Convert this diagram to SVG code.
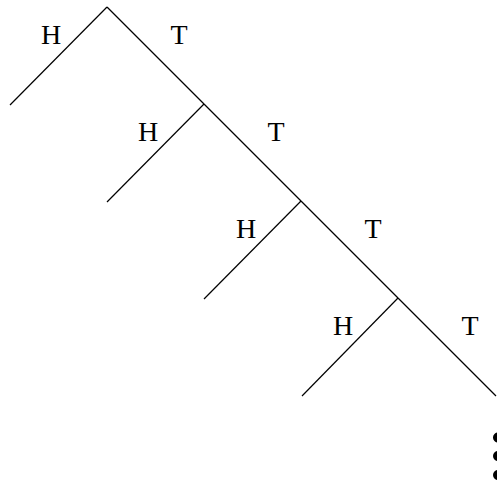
<svg xmlns="http://www.w3.org/2000/svg" width="497" height="486" viewBox="0 0 497 486">
<style>
.e{stroke:#000;stroke-width:1.2;fill:none}
.l{font-family:"Liberation Serif",serif;font-size:28px;fill:#000;text-anchor:middle}
.d{fill:#000}
</style>
<rect width="497" height="486" fill="#fff"/>
<g id="connectors">
<path class="e" d="M107,7 L10,105"/>
<path class="e" d="M107,7 L204,104"/>
<path class="e" d="M204,104 L107,202"/>
<path class="e" d="M204,104 L301,201"/>
<path class="e" d="M301,201 L204,299"/>
<path class="e" d="M301,201 L398,298"/>
<path class="e" d="M398,298 L302,396"/>
<path class="e" d="M398,298 L496,396"/>
</g>
<g id="labels">
<text class="l" x="51" y="44">H</text>
<text class="l" x="179" y="44">T</text>
<text class="l" x="148" y="141">H</text>
<text class="l" x="276" y="141">T</text>
<text class="l" x="246" y="238">H</text>
<text class="l" x="373" y="238">T</text>
<text class="l" x="343" y="335">H</text>
<text class="l" x="470" y="335">T</text>
</g>
<g id="dots">
<circle class="d" cx="498" cy="437.5" r="5"/>
<circle class="d" cx="498" cy="456" r="5"/>
<circle class="d" cx="498" cy="475" r="5"/>
</g>
</svg>
